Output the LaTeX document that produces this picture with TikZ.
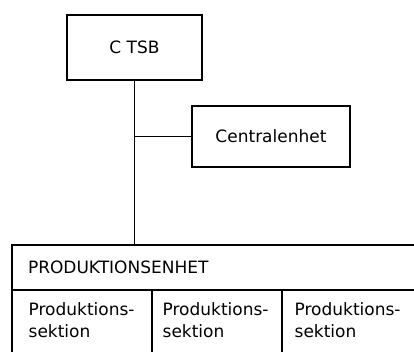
\documentclass[tikz,border=0pt]{standalone}
\usepackage{fontspec}
\setmainfont{DejaVu Sans}
\usepackage{tikz}
\usetikzlibrary{positioning}

\begin{document}
\begin{tikzpicture}[
  x=1pt, y=-1pt,
  font=\fontsize{17}{22}\selectfont,
  line width=1.3pt,
  box/.style={draw, line width=1.5pt, outer sep=0pt, align=center},
  cell/.style={draw, outer sep=0pt, anchor=north west, minimum height=70pt},
  celltext/.style={anchor=north west, align=left, inner sep=0pt},
  link/.style={line width=1.2pt}
]
\useasboundingbox (0,0) rectangle (414,352);
\clip (0,0) rectangle (414,352);

\node[box, minimum width=135pt, minimum height=65pt] (ctsb) at (134.5,47.5) {C TSB};
\node[box, minimum width=158pt, minimum height=61pt] (cent) at (271,136.5) {Centralenhet};

% produktionsenhet with its three sections
\node[draw, outer sep=0pt, anchor=north west, inner xsep=16pt, text width=378pt,
      align=left, minimum height=45pt] (head) at (12,245) {PRODUKTIONSENHET};
\node[cell, minimum width=140pt] (s1) at (head.south west) {};
\node[cell, minimum width=130pt, right=0pt of s1] (s2) {};
\node[cell, minimum width=140pt, right=0pt of s2] (s3) {};
\node[celltext] (t1) at ([xshift=16pt, yshift=-12pt]s1.north west) {Produktions-\\sektion};
\node[celltext] (t2) at ([xshift=10pt, yshift=-12pt]s2.north west) {Produktions-\\sektion};
\node[celltext] (t3) at ([xshift=12pt, yshift=-12pt]s3.north west) {Produktions-\\sektion};

\draw[link] (ctsb.south) -- (ctsb.south |- head.north);
\draw[link] (ctsb.south |- cent.west) -- (cent.west);
\end{tikzpicture}
\end{document}
